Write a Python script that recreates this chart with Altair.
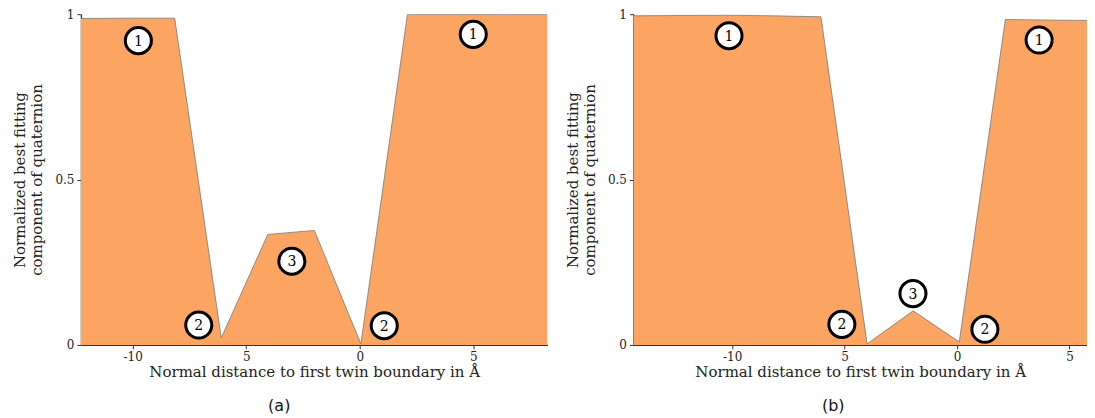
import altair as alt
import pandas as pd

# ---- data ----
xa = [-12.28, -10.2, -8.15, -6.1, -4.05, -2.0, 0.05, 2.1, 4.15, 6.2, 8.27]
ya = [0.987, 0.988, 0.988, 0.021, 0.334, 0.346, 0.003, 0.999, 0.999, 0.999, 0.999]

xb = [-14.39, -12.3, -10.2, -8.15, -6.05, -4.0, -1.95, 0.1, 2.15, 4.2, 6.12]
yb = [0.995, 0.996, 0.997, 0.995, 0.992, 0.003, 0.103, 0.009, 0.984, 0.982, 0.981]

lab_text = ["1", "1", "2", "2", "3"]
lab_xa = [-9.75, 5.0, -7.09, 1.08, -2.99]
lab_ya = [0.92, 0.939, 0.06, 0.058, 0.253]
lab_xb = [-10.14, 3.65, -5.12, 1.24, -1.96]
lab_yb = [0.935, 0.922, 0.062, 0.047, 0.155]

x_ticks = [-10, -5, 0, 5]
x_tick_labels = ["-10", "5", "0", "5"]
y_ticks = [0, 0.5, 1]
y_tick_labels = ["0", "0.5", "1"]

x_title = "Normal distance to first twin boundary in Å"
y_title = ["Normalized best fitting", "component of quaternion"]

ORANGE = "#FCA563"
SERIF = "DejaVu Serif"

label_expr_x = " : ".join(
    [f"datum.value == {v} ? '{t}'" for v, t in zip(x_ticks, x_tick_labels)]
) + " : datum.label"
label_expr_y = " : ".join(
    [f"datum.value == {v} ? '{t}'" for v, t in zip(y_ticks, y_tick_labels)]
) + " : datum.label"


def panel(xs, ys, lx, ly, domain, width, caption, dx):
    df = pd.DataFrame({"x": xs, "y": ys})
    dl = pd.DataFrame({"x": lx, "y": ly, "t": lab_text})
    xenc = alt.X(
        "x:Q",
        scale=alt.Scale(domain=domain, nice=False, zero=False),
        axis=alt.Axis(values=x_ticks, labelExpr=label_expr_x, title=x_title,
                      labelFlush=False, titlePadding=2),
    )
    yenc = alt.Y(
        "y:Q",
        scale=alt.Scale(domain=[0, 1], nice=False),
        axis=alt.Axis(values=y_ticks, labelExpr=label_expr_y, title=y_title,
                      labelFlush=False, titlePadding=10),
    )
    area = alt.Chart(df).mark_area(
        color=ORANGE, clip=True, opacity=1,
        line={"color": "#777777", "strokeWidth": 0.8},
    ).encode(x=xenc, y=yenc)
    pts = alt.Chart(dl).mark_point(
        shape="circle", filled=True, fill="white", stroke="black",
        strokeWidth=3, size=680, opacity=1,
    ).encode(x="x:Q", y="y:Q")
    txt = alt.Chart(dl).mark_text(
        font=SERIF, fontSize=14, color="black", baseline="middle", align="center", dy=1
    ).encode(x="x:Q", y="y:Q", text="t:N")
    return alt.layer(area, pts, txt).properties(
        width=width, height=331,
        title=alt.TitleParams(caption, orient="bottom", font="DejaVu Sans",
                              fontSize=16, fontWeight="normal", color="#111",
                              dx=dx, offset=18),
    )


pa = panel(xa, ya, lab_xa, lab_ya, [-12.28, 8.27], 467, "(a)", -35)
pb = panel(xb, yb, lab_xb, lab_yb, [-14.39, 5.78], 454, "(b)", -27)

chart = alt.hconcat(pa, pb, spacing=17).properties(
    padding={"left": 4, "top": 0, "right": 0, "bottom": 0}
).configure_view(stroke=None).configure_axis(
    grid=False,
    domainColor="#333333", domainWidth=1.3,
    tickColor="#333333", tickSize=4, tickWidth=1,
    labelFont=SERIF, labelFontSize=12, labelColor="#222222", labelPadding=3,
    titleFont=SERIF, titleFontSize=15, titleFontWeight="normal", titleColor="#222222",
)

chart.save("out.html", embed_options={"renderer": "svg", "actions": False})
